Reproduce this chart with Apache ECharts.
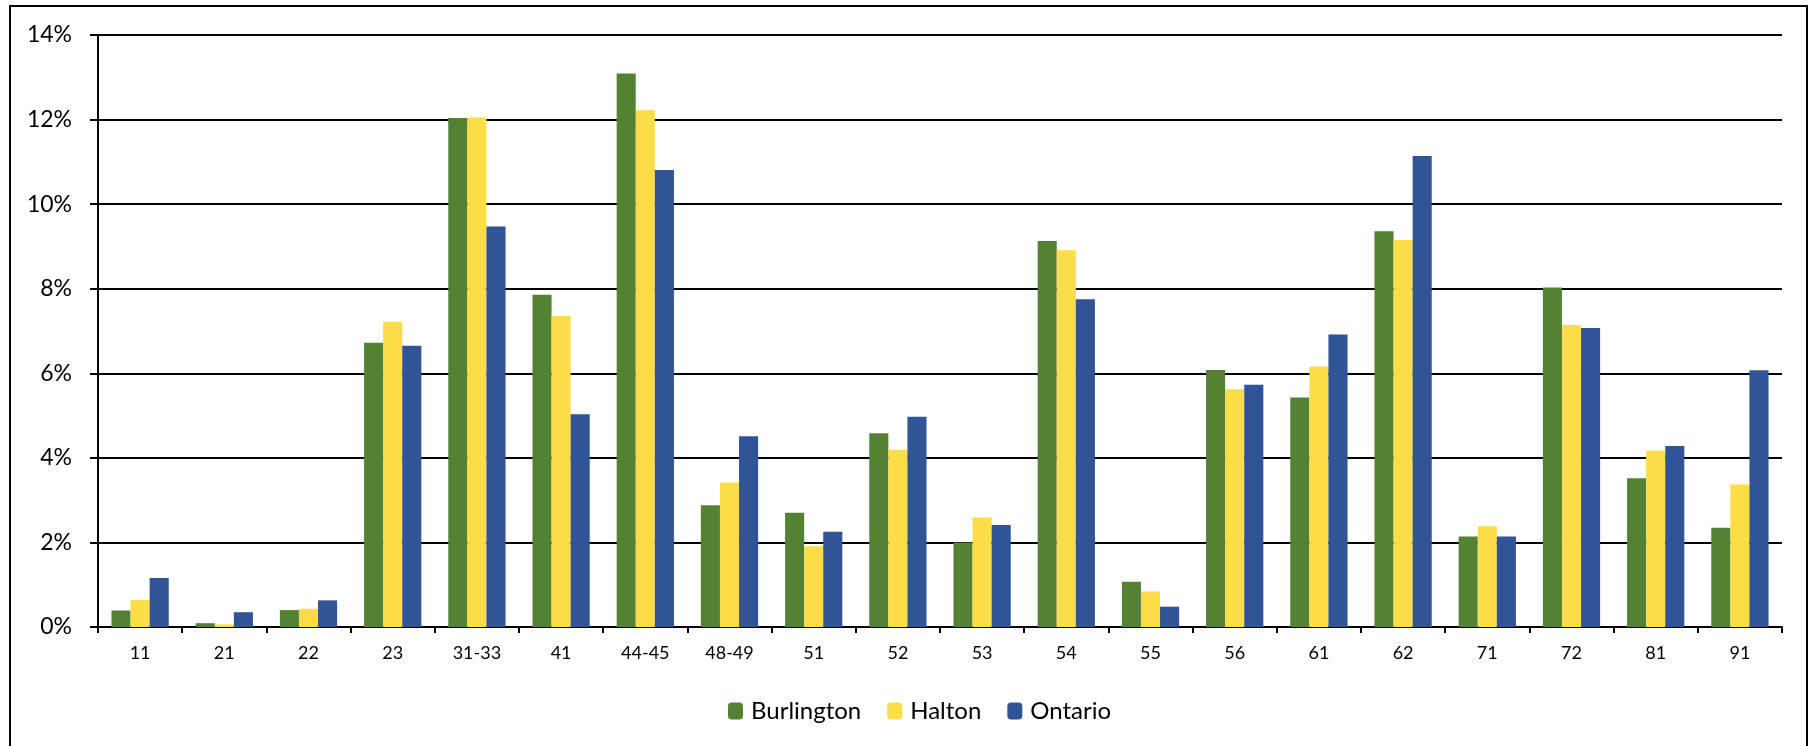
<!DOCTYPE html>
<html>
<head>
<meta charset="utf-8">
<script src="https://cdn.jsdelivr.net/npm/echarts@6/dist/echarts.min.js"></script>
<style>
  html, body { margin: 0; padding: 0; background: #fff; }
  #chart { width: 1813px; height: 746px; }
</style>
</head>
<body>
<div id="chart"></div>
<script>
// NAICS sector codes
const categories = ['11', '21', '22', '23', '31-33', '41', '44-45', '48-49', '51', '52',
  '53', '54', '55', '56', '61', '62', '71', '72', '81', '91'];

// Share of employment by sector (%)
const burlington = [0.39, 0.09, 0.40, 6.72, 12.04, 7.86, 13.09, 2.88, 2.70, 4.58,
  2.00, 9.13, 1.07, 6.08, 5.43, 9.36, 2.14, 8.03, 3.52, 2.35];
const halton = [0.64, 0.06, 0.43, 7.22, 12.05, 7.36, 12.22, 3.42, 1.91, 4.19,
  2.59, 8.91, 0.84, 5.62, 6.16, 9.15, 2.38, 7.14, 4.17, 3.37];
const ontario = [1.16, 0.35, 0.63, 6.65, 9.47, 5.03, 10.81, 4.51, 2.25, 4.97,
  2.41, 7.75, 0.48, 5.73, 6.92, 11.14, 2.14, 7.07, 4.28, 6.07];

const seriesNames = ['Burlington', 'Halton', 'Ontario'];
const seriesColors = ['#548235', '#FADD47', '#305496'];

const FONT = 'Lato, "Noto Sans", sans-serif';

const chart = echarts.init(document.getElementById('chart'), null, { renderer: 'canvas' });

const makeBar = (name, data, color) => ({
  name: name,
  type: 'bar',
  data: data,
  barGap: '0%',
  barCategoryGap: '32%',
  itemStyle: { color: color },
  emphasis: { disabled: true }
});

chart.setOption({
  animation: false,
  backgroundColor: '#ffffff',
  graphic: [{
    type: 'rect',
    shape: { x: 10, y: 6, width: 1797, height: 760 },
    style: { fill: 'none', stroke: '#000', lineWidth: 2 },
    z: -1
  }],
  grid: { left: 98, right: 31, top: 35, bottom: 119, containLabel: false },
  legend: {
    data: seriesNames,
    left: 723,
    top: 694,
    itemWidth: 15,
    itemHeight: 17,
    itemGap: 26,
    textStyle: { fontFamily: FONT, fontSize: 24, color: '#000', padding: [0, 0, 0, 3] }
  },
  xAxis: {
    type: 'category',
    data: categories,
    axisLine: { show: true, lineStyle: { color: '#000', width: 2 } },
    axisTick: { show: true, length: 6, lineStyle: { color: '#000', width: 2 } },
    axisLabel: { fontFamily: FONT, fontSize: 18, color: '#000', margin: 17 },
    splitLine: { show: false }
  },
  yAxis: {
    type: 'value',
    min: 0,
    max: 14,
    interval: 2,
    axisLine: { show: true, lineStyle: { color: '#000', width: 2 } },
    axisTick: { show: true, length: 8, lineStyle: { color: '#000', width: 2 } },
    axisLabel: {
      fontFamily: FONT, fontSize: 23, color: '#000', margin: 26,
      formatter: v => v + '%'
    },
    splitLine: { show: true, lineStyle: { color: '#000', width: 2 } }
  },
  series: [
    makeBar(seriesNames[0], burlington, seriesColors[0]),
    makeBar(seriesNames[1], halton, seriesColors[1]),
    makeBar(seriesNames[2], ontario, seriesColors[2])
  ]
});
</script>
</body>
</html>
